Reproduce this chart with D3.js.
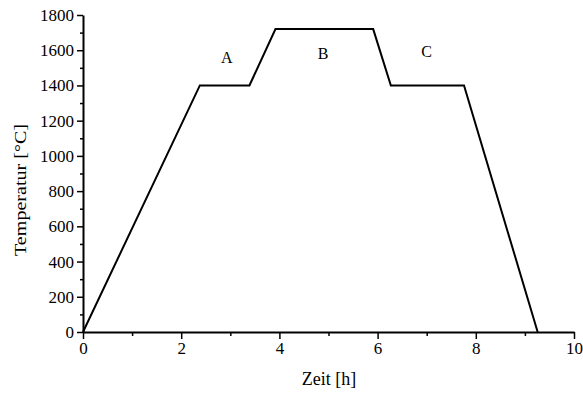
<!DOCTYPE html>
<html>
<head>
<meta charset="utf-8">
<script src="https://cdn.jsdelivr.net/npm/d3@7"></script>
<style>
  html, body { margin: 0; padding: 0; background: #fff; }
  svg text { font-family: "Liberation Serif", "DejaVu Serif", serif; fill: #000; }
</style>
</head>
<body>
<svg id="chart" width="583" height="394"></svg>
<script>
// Temperature program: time in hours vs. temperature in °C
const timeH = [0, 2.38, 3.39, 3.92, 5.91, 6.27, 7.76, 9.26];
const tempC = [0, 1400, 1400, 1720, 1720, 1400, 1400, 0];

// Segment labels
const segNames = ["A", "B", "C"];
const segTime = [2.93, 4.89, 7.0];
const segTemp = [1530, 1550, 1560];

const xTicks = [0, 2, 4, 6, 8, 10];
const yTicks = [0, 200, 400, 600, 800, 1000, 1200, 1400, 1600, 1800];

const serif = '"Liberation Serif", "DejaVu Serif", serif';
const svg = d3.select("#chart");
const x = d3.scaleLinear().domain([0, 10]).range([83, 574]);
const y = d3.scaleLinear().domain([0, 1800]).range([332, 15]);

// minor ticks
svg.append("g")
  .attr("transform", `translate(0,${y(0)})`)
  .call(d3.axisBottom(x).tickValues(d3.range(1, 10, 2)).tickSize(4).tickFormat(""))
  .call(g => g.select(".domain").remove())
  .call(g => g.selectAll("line").attr("stroke-width", 1.5));
svg.append("g")
  .attr("transform", `translate(${x(0)},0)`)
  .call(d3.axisLeft(y).tickValues(d3.range(100, 1800, 200)).tickSize(3).tickFormat(""))
  .call(g => g.select(".domain").remove())
  .call(g => g.selectAll("line").attr("stroke-width", 1.5));

// major axes
const xAxis = svg.append("g")
  .attr("transform", `translate(0,${y(0)})`)
  .call(d3.axisBottom(x).tickValues(xTicks).tickSize(7).tickSizeOuter(0).tickPadding(3).tickFormat(d3.format("d")));
const yAxis = svg.append("g")
  .attr("transform", `translate(${x(0)},0)`)
  .call(d3.axisLeft(y).tickValues(yTicks).tickSize(6).tickSizeOuter(0).tickPadding(3).tickFormat(d3.format("d")));

[xAxis, yAxis].forEach(g => {
  g.attr("font-family", serif).attr("font-size", 17);
  g.select(".domain").attr("stroke-width", 2);
  g.selectAll(".tick line").attr("stroke-width", 1.5);
  g.selectAll(".tick text").style("font-family", serif).style("font-size", "17px");
});

// temperature curve
const pts = timeH.map((t, i) => [t, tempC[i]]);
svg.append("path")
  .datum(pts)
  .attr("fill", "none")
  .attr("stroke", "#000")
  .attr("stroke-width", 2)
  .attr("stroke-linejoin", "miter")
  .attr("d", d3.line().x(d => x(d[0])).y(d => y(d[1])));

// segment labels
svg.selectAll("text.seg")
  .data(segNames)
  .join("text")
  .attr("class", "seg")
  .attr("x", (d, i) => x(segTime[i]))
  .attr("y", (d, i) => y(segTemp[i]))
  .attr("text-anchor", "middle")
  .style("font-size", "16px")
  .text(d => d);

// axis titles
svg.append("text")
  .attr("x", 329)
  .attr("y", 385)
  .attr("text-anchor", "middle")
  .style("font-size", "18px")
  .text("Zeit [h]");
svg.append("text")
  .attr("transform", "translate(26,190) rotate(-90)")
  .attr("text-anchor", "middle")
  .attr("textLength", 132)
  .attr("lengthAdjust", "spacingAndGlyphs")
  .style("font-size", "17px")
  .text("Temperatur [°C]");
</script>
</body>
</html>
